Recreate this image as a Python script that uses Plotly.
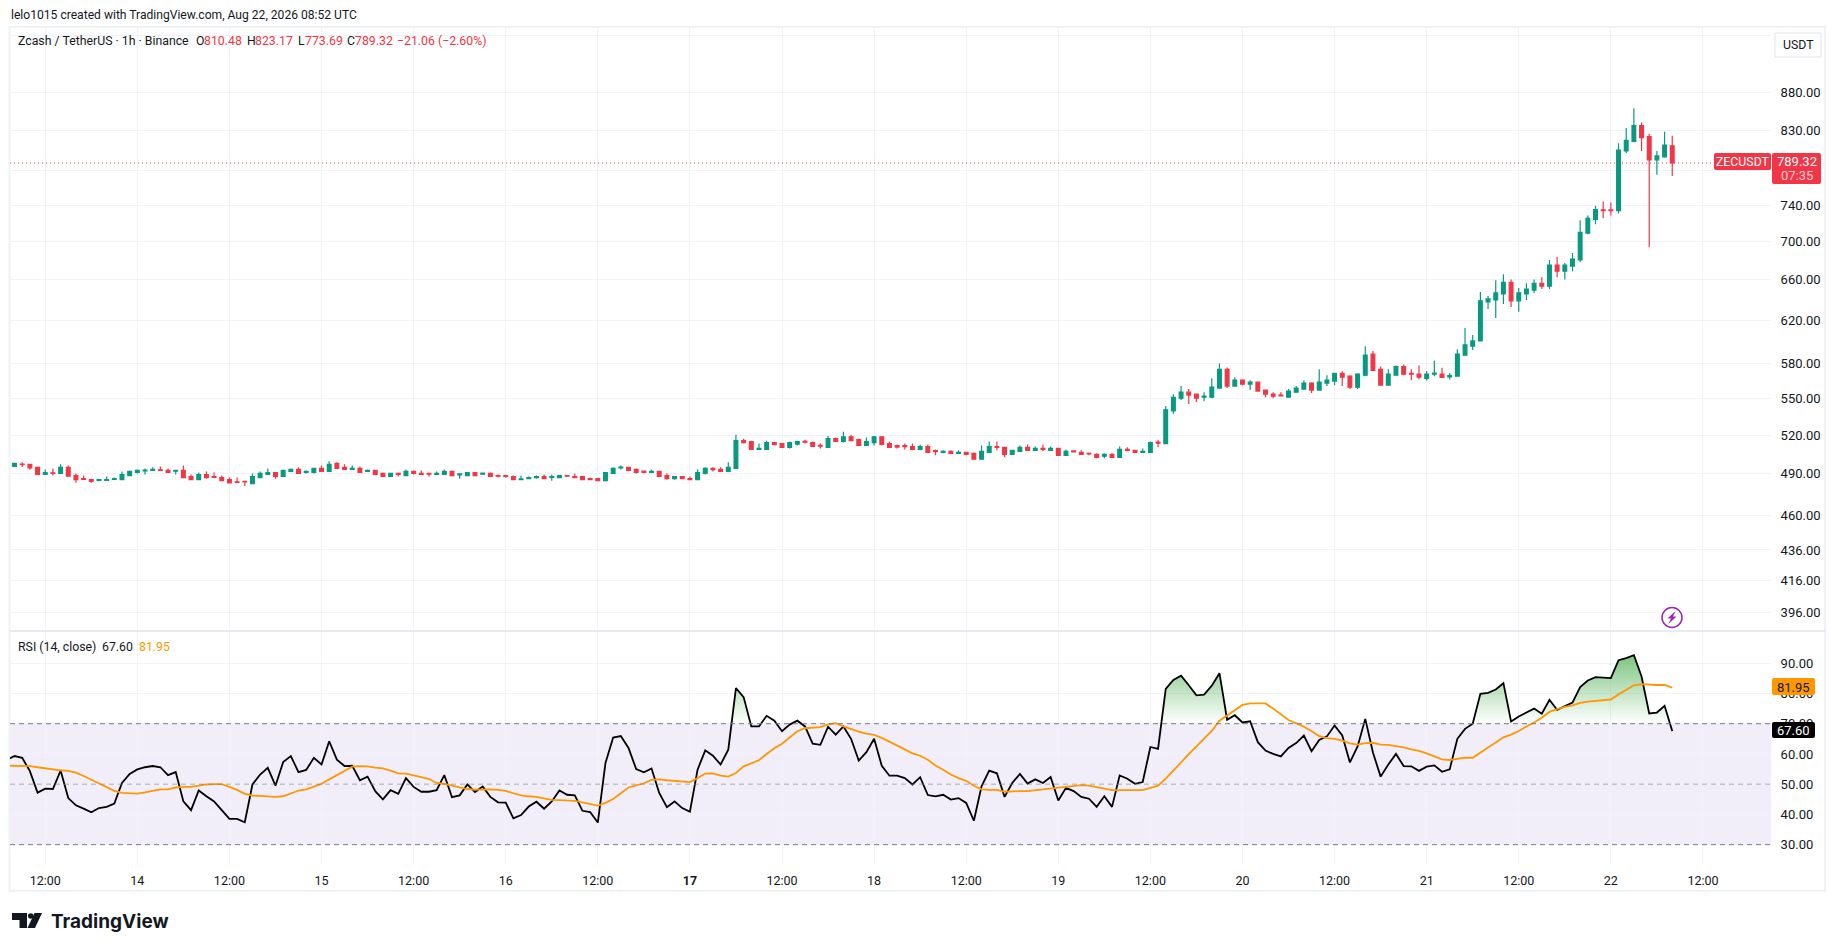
"""
ZEC/USDT 1h candles with RSI(14) pane, TradingView style.
"""

import pandas as pd
import plotly.graph_objects as go

W, H = 1835, 951

# first entry is the 07:00 bar that sits just off the left edge
opens = [
    495.8,
    495.6, 497.4, 497.2, 494.9, 489.5, 490.8, 490.3, 494.9, 488.7, 486.4,
    485.6, 485.1, 485.1, 485.9, 485.6, 488.7, 491.0, 492.3, 492.6, 493.1,
    492.6, 492.0, 492.6, 488.0, 485.6, 489.5, 488.0, 487.2, 485.6, 484.1,
    484.4, 482.6, 487.2, 489.5, 491.0, 488.0, 491.8, 493.3, 491.0, 491.0,
    494.1, 491.8, 497.9, 494.9, 493.3, 494.1, 491.8, 492.6, 490.3, 488.0,
    490.3, 488.7, 491.8, 490.3, 490.3, 489.5, 489.5, 491.8, 489.2, 488.7,
    491.0, 489.7, 490.3, 488.7, 488.7, 488.0, 485.6, 486.4, 487.2, 488.0,
    487.4, 487.2, 488.7, 488.0, 488.0, 486.4, 486.4, 484.9, 490.3, 494.4,
    494.9, 493.3, 492.0, 491.0, 491.8, 488.7, 486.4, 488.0, 486.4, 485.6,
    490.3, 494.1, 493.3, 491.8, 494.1, 515.6, 514.8, 508.7, 508.7, 514.1,
    513.3, 510.2, 512.9, 515.1, 514.1, 511.8, 510.3, 517.2, 514.9, 518.7,
    516.4, 511.8, 514.1, 518.7, 513.3, 511.6, 511.6, 511.0, 508.7, 511.0,
    507.7, 506.4, 507.2, 505.7, 506.4, 505.7, 501.1, 506.4, 511.0, 510.3,
    504.9, 507.2, 510.3, 508.0, 509.5, 508.0, 509.5, 504.1, 507.5, 506.4,
    505.7, 504.9, 503.4, 504.9, 502.6, 508.7, 508.0, 506.4, 506.4, 514.4,
    513.3, 539.7, 550.3, 555.4, 553.7, 551.1, 551.1, 558.9, 575.2, 560.6,
    565.7, 562.3, 564.0, 557.2, 553.7, 552.9, 551.1, 555.4, 558.0, 563.2,
    557.2, 563.2, 564.9, 571.7, 569.2, 559.7, 570.0, 588.7, 575.2, 561.4,
    570.0, 577.7, 571.7, 570.9, 567.3, 571.0, 571.0, 568.5, 569.2, 587.8,
    596.1, 600.8, 637.9, 639.8, 645.7, 657.4, 638.9, 645.7, 649.6, 656.4,
    653.5, 675.0, 668.7, 673.9, 680.2, 708.7, 724.0, 734.5, 734.5, 733.8,
    804.0, 816.0, 835.8, 822.0, 793.2, 796.8, 810.48,
]
highs = [
    496.5,
    497.9, 498.7, 497.2, 494.9, 493.3, 494.1, 497.2, 496.4, 490.3, 488.7,
    486.2, 486.4, 488.0, 487.2, 491.8, 492.6, 493.3, 494.1, 494.9, 495.6,
    494.1, 492.6, 496.4, 489.5, 491.0, 491.8, 491.0, 488.7, 487.2, 487.2,
    484.9, 490.3, 491.8, 494.1, 491.0, 493.1, 494.1, 494.9, 492.6, 494.1,
    496.4, 499.5, 498.7, 497.2, 496.4, 495.6, 493.3, 492.6, 491.0, 490.3,
    491.0, 493.3, 492.6, 492.6, 490.3, 491.8, 493.3, 491.8, 490.0, 491.0,
    491.0, 491.0, 491.0, 489.5, 488.7, 488.7, 488.7, 488.0, 488.7, 489.5,
    489.5, 488.7, 488.7, 490.3, 488.0, 487.2, 486.4, 491.0, 494.9, 496.4,
    494.9, 494.1, 492.6, 493.3, 491.8, 490.3, 488.0, 488.0, 488.0, 493.3,
    494.9, 494.9, 494.9, 498.7, 520.3, 517.1, 515.6, 513.3, 515.6, 514.1,
    513.3, 514.8, 515.6, 516.4, 514.9, 513.3, 519.5, 518.0, 522.7, 520.3,
    517.2, 518.0, 519.5, 518.7, 514.9, 512.6, 513.3, 513.3, 512.6, 512.6,
    508.7, 508.0, 508.0, 508.0, 506.4, 506.4, 511.8, 514.9, 514.9, 510.3,
    508.0, 511.8, 512.6, 511.0, 512.6, 511.0, 509.5, 508.7, 508.0, 508.0,
    506.4, 505.7, 505.7, 505.7, 511.0, 510.3, 508.0, 509.5, 514.9, 516.4,
    543.8, 553.7, 560.6, 558.0, 553.7, 555.4, 567.4, 580.3, 576.9, 568.3,
    566.6, 565.7, 564.0, 557.2, 555.4, 555.4, 558.0, 560.6, 565.7, 564.0,
    575.2, 570.0, 571.7, 573.5, 570.0, 571.7, 596.0, 591.5, 577.7, 575.2,
    578.6, 579.5, 575.2, 578.6, 573.8, 583.1, 576.6, 571.9, 593.3, 612.9,
    606.4, 647.6, 643.7, 659.4, 665.6, 660.3, 651.6, 656.4, 660.3, 662.4,
    680.2, 683.3, 677.0, 687.5, 722.9, 728.4, 739.3, 744.0, 742.8, 813.6,
    832.8, 858.5, 839.8, 825.6, 804.0, 828.0, 823.17,
]
lows = [
    495.0,
    495.6, 495.1, 493.1, 489.5, 489.5, 488.7, 490.3, 488.2, 483.3, 485.6,
    483.3, 484.4, 484.9, 485.6, 485.6, 488.2, 490.3, 489.5, 492.6, 492.6,
    491.0, 489.5, 487.2, 485.6, 485.6, 486.4, 487.2, 484.9, 483.3, 483.3,
    481.0, 482.6, 487.2, 489.5, 486.4, 487.4, 491.8, 490.3, 490.3, 490.3,
    491.8, 491.8, 494.1, 493.3, 493.3, 491.0, 491.8, 489.5, 488.0, 488.0,
    488.0, 488.7, 489.5, 489.5, 488.0, 489.5, 489.5, 488.7, 486.4, 488.7,
    488.7, 489.5, 488.0, 487.2, 487.2, 485.6, 485.6, 486.4, 486.4, 486.4,
    484.9, 487.2, 488.2, 487.2, 485.6, 485.6, 484.9, 484.9, 490.3, 493.3,
    492.6, 490.3, 491.0, 491.0, 488.0, 485.6, 485.6, 486.4, 485.6, 485.6,
    489.5, 491.8, 491.8, 491.8, 494.1, 513.3, 508.7, 508.7, 508.7, 512.5,
    510.2, 509.5, 511.8, 513.3, 511.0, 509.5, 510.3, 514.9, 514.1, 515.6,
    511.8, 511.8, 511.8, 511.8, 510.3, 509.5, 508.7, 508.0, 508.0, 506.4,
    504.1, 505.7, 504.9, 505.7, 504.1, 501.1, 501.1, 505.7, 508.0, 502.6,
    504.9, 507.2, 508.0, 508.0, 507.2, 508.0, 504.1, 504.1, 506.4, 504.9,
    504.1, 501.8, 501.8, 502.6, 502.6, 507.2, 505.7, 506.4, 506.4, 510.3,
    513.3, 537.3, 548.7, 545.4, 547.0, 547.8, 550.3, 558.9, 558.9, 560.6,
    561.4, 557.2, 556.3, 551.1, 550.3, 552.0, 551.1, 555.4, 558.0, 554.6,
    557.2, 560.6, 561.4, 560.6, 558.0, 558.0, 569.2, 574.3, 561.4, 561.4,
    570.0, 570.0, 565.7, 566.6, 565.4, 569.2, 568.2, 566.4, 569.2, 587.8,
    592.4, 600.8, 631.0, 622.3, 635.9, 633.0, 628.2, 639.8, 646.7, 650.6,
    650.6, 662.4, 660.3, 668.7, 678.1, 707.6, 718.6, 725.1, 728.4, 730.5,
    801.6, 814.8, 804.0, 693.7, 775.2, 795.6, 773.69,
]
closes = [
    495.6,
    497.9, 496.9, 494.4, 489.5, 491.0, 490.3, 494.9, 488.2, 485.6, 485.9,
    484.4, 485.6, 485.6, 486.4, 489.5, 491.8, 492.6, 492.8, 493.3, 492.6,
    491.0, 492.6, 487.2, 485.6, 489.5, 487.2, 487.4, 484.9, 483.3, 483.6,
    483.9, 488.0, 490.3, 491.0, 488.0, 492.6, 493.3, 490.3, 491.8, 494.1,
    491.8, 497.2, 494.1, 493.3, 494.1, 491.0, 492.6, 489.5, 488.0, 490.3,
    489.5, 491.8, 490.3, 489.5, 489.7, 490.3, 491.8, 488.7, 490.0, 491.0,
    488.7, 490.5, 488.0, 488.2, 488.0, 485.6, 486.2, 487.2, 488.0, 486.4,
    488.0, 488.7, 488.2, 487.2, 485.6, 485.6, 484.9, 491.0, 494.1, 495.1,
    492.6, 491.0, 491.0, 491.8, 488.0, 486.4, 488.0, 486.4, 485.6, 491.0,
    494.1, 493.1, 491.8, 494.9, 515.6, 514.1, 508.7, 509.5, 514.1, 512.5,
    510.2, 514.1, 514.8, 514.4, 511.0, 511.3, 517.2, 514.9, 518.7, 515.6,
    511.8, 514.9, 518.7, 512.6, 510.3, 510.5, 510.8, 508.7, 511.0, 506.4,
    506.9, 507.2, 505.7, 506.4, 504.9, 501.1, 507.2, 511.0, 510.3, 504.9,
    508.0, 510.3, 508.0, 509.5, 508.7, 509.5, 504.1, 507.2, 506.7, 504.9,
    505.2, 502.6, 504.9, 502.6, 508.7, 508.0, 506.4, 507.2, 514.1, 513.6,
    540.5, 551.1, 555.4, 552.9, 550.3, 552.0, 559.7, 575.2, 560.6, 565.7,
    562.3, 564.0, 556.3, 553.7, 552.0, 552.3, 556.3, 558.9, 563.2, 557.2,
    564.0, 565.7, 571.7, 568.3, 559.7, 570.9, 587.8, 574.3, 561.4, 570.9,
    577.7, 570.9, 570.9, 568.3, 571.0, 571.9, 568.2, 569.8, 588.7, 597.1,
    600.8, 638.9, 640.8, 646.7, 657.4, 638.9, 646.7, 650.6, 656.4, 653.5,
    675.0, 668.7, 675.0, 681.2, 709.8, 725.1, 734.9, 733.8, 733.8, 805.2,
    817.2, 835.8, 820.8, 793.2, 798.0, 811.2, 789.32,
]
rsi_values = [
    58.1,
    59.3, 58.7, 54.3, 47.2, 48.5, 48.4, 54.5, 45.4, 43.0, 41.9,
    40.7, 42.1, 42.5, 43.6, 50.4, 53.4, 54.9, 55.6, 56.0, 55.6,
    53.0, 54.0, 44.3, 41.4, 47.9, 46.0, 44.3, 41.4, 38.5, 38.5,
    37.4, 49.9, 53.2, 55.4, 49.5, 57.3, 59.3, 54.0, 54.7, 58.7,
    56.5, 64.2, 58.1, 56.0, 56.1, 51.3, 52.5, 47.7, 45.0, 48.0,
    46.8, 52.0, 49.1, 47.5, 47.5, 48.0, 53.0, 45.7, 46.3, 49.9,
    47.4, 49.2, 45.8, 44.0, 43.9, 38.7, 39.8, 42.6, 44.2, 41.9,
    44.3, 47.9, 46.5, 46.3, 41.2, 40.8, 37.3, 57.0, 65.4, 65.9,
    62.0, 55.0, 53.9, 55.2, 47.1, 42.4, 44.3, 42.1, 40.9, 54.8,
    61.2, 59.4, 56.5, 61.4, 81.8, 78.8, 69.1, 69.1, 72.6, 71.0,
    67.5, 69.7, 71.0, 69.1, 63.4, 63.0, 69.0, 66.4, 69.1, 65.0,
    57.8, 60.6, 65.0, 56.1, 52.8, 52.8, 52.0, 49.9, 52.3, 46.4,
    46.0, 46.5, 44.9, 45.4, 43.8, 37.9, 49.3, 54.5, 53.6, 45.8,
    50.4, 53.4, 50.2, 51.6, 50.4, 52.4, 44.6, 48.8, 47.7, 45.8,
    45.2, 42.5, 46.0, 42.5, 52.9, 51.8, 50.1, 50.7, 62.3, 61.7,
    81.5, 84.5, 85.9, 82.7, 79.4, 79.6, 82.6, 86.7, 71.3, 72.8,
    70.4, 70.8, 63.9, 61.1, 60.0, 59.2, 62.0, 63.6, 66.1, 60.9,
    64.6, 65.8, 69.4, 66.1, 57.2, 62.5, 71.6, 60.5, 52.5, 56.5,
    60.0, 56.0, 55.9, 54.4, 55.8, 56.2, 54.1, 54.9, 65.0, 68.3,
    70.0, 79.9, 80.2, 81.3, 83.4, 70.7, 72.4, 73.7, 75.0, 73.3,
    77.9, 74.6, 75.9, 77.0, 82.1, 84.3, 85.4, 85.2, 85.1, 91.0,
    91.7, 92.7, 85.6, 73.4, 73.7, 75.9, 67.60,
]
rsi_ma = [
    56.1,
    56.1, 56.2, 56.0, 55.6, 55.2, 54.9, 54.6, 54.4, 53.8, 52.7,
    51.5, 50.2, 48.9, 47.8, 47.1, 46.9, 46.9, 47.3, 47.9, 48.3,
    48.3, 48.9, 49.1, 49.1, 49.5, 49.9, 50.0, 50.0, 49.1, 48.1,
    46.8, 46.2, 46.1, 46.0, 45.8, 46.0, 47.0, 47.9, 48.3, 49.1,
    50.1, 51.6, 53.0, 54.5, 55.8, 56.0, 55.9, 55.5, 55.2, 54.5,
    53.6, 53.5, 53.0, 52.3, 51.7, 50.4, 50.1, 49.5, 48.8, 48.4,
    48.2, 48.3, 48.3, 48.1, 47.8, 47.0, 46.3, 46.0, 45.8, 45.3,
    44.8, 44.7, 44.7, 44.5, 44.0, 43.5, 42.9, 43.8, 45.1, 47.0,
    48.9, 49.6, 50.3, 51.4, 51.6, 51.3, 51.1, 50.7, 50.7, 52.0,
    53.5, 53.6, 52.8, 52.5, 53.7, 55.9, 56.9, 57.9, 60.0, 61.9,
    63.4, 65.4, 67.5, 68.5, 68.7, 68.9, 69.8, 70.2, 69.1, 68.2,
    67.4, 66.7, 66.3, 65.3, 64.1, 62.8, 61.5, 60.2, 59.4, 58.1,
    56.2, 54.8, 53.2, 52.0, 51.1, 49.5, 48.3, 48.1, 48.1, 47.5,
    47.7, 47.7, 47.7, 48.0, 48.3, 48.6, 48.9, 49.1, 49.4, 49.7,
    49.5, 49.0, 48.3, 48.0, 48.0, 48.0, 48.0, 48.0, 48.8, 49.5,
    51.8, 54.6, 57.2, 59.9, 62.5, 65.0, 67.6, 71.0, 72.8, 74.6,
    76.2, 76.7, 76.7, 76.7, 75.0, 73.1, 71.2, 70.1, 69.0, 67.5,
    65.9, 65.2, 65.0, 64.4, 63.5, 63.1, 63.6, 63.7, 63.1, 63.0,
    62.7, 62.2, 61.5, 61.0, 60.2, 59.2, 58.2, 58.0, 58.5, 58.8,
    58.7, 60.3, 62.1, 63.8, 65.5, 66.4, 67.6, 69.1, 70.4, 72.0,
    73.9, 74.8, 75.6, 76.1, 76.9, 77.3, 77.6, 77.8, 78.0, 79.7,
    81.3, 82.7, 83.1, 82.9, 82.8, 82.8, 81.95,
]

tick_times = [
    "2026-08-13 12:00", "2026-08-14 00:00", "2026-08-14 12:00", "2026-08-15 00:00",
    "2026-08-15 12:00", "2026-08-16 00:00", "2026-08-16 12:00", "2026-08-17 00:00",
    "2026-08-17 12:00", "2026-08-18 00:00", "2026-08-18 12:00", "2026-08-19 00:00",
    "2026-08-19 12:00", "2026-08-20 00:00", "2026-08-20 12:00", "2026-08-21 00:00",
    "2026-08-21 12:00", "2026-08-22 00:00", "2026-08-22 12:00",
]
tick_labels = [
    "12:00", "14", "12:00", "15", "12:00", "16", "12:00", "<b>17</b>", "12:00", "18",
    "12:00", "19", "12:00", "20", "12:00", "21", "12:00", "22", "12:00",
]
# 780 and 960 only leave a gridline, their labels sit under the badge and the button
price_ticks = [396, 416, 436, 460, 490, 520, 550, 580, 620, 660, 700, 740, 780, 830, 880, 960]
price_labels = [
    "396.00", "416.00", "436.00", "460.00", "490.00", "520.00", "550.00", "580.00",
    "620.00", "660.00", "700.00", "740.00", "", "830.00", "880.00", "",
]
rsi_ticks = [30, 40, 50, 60, 70, 80, 90]
rsi_labels = ["30.00", "40.00", "50.00", "60.00", "70.00", "80.00", "90.00"]

GREEN = "#089981"
RED = "#F23645"
ORANGE = "#FF9800"
GRID = "#f0f3fa"
TEXT = "#131722"
FONT = "Roboto"


def fx(px):
    return px / W


def fy(px):
    return 1 - px / H


def label(px_x, px_y, text, color=TEXT, size=12.3, anchor="left", family=FONT):
    # annotations pad their text by about 2px, take that off for left aligned ones
    x = px_x - 2 if anchor == "left" else px_x
    return dict(
        x=fx(x), y=fy(px_y), xref="paper", yref="paper", text=text, showarrow=False,
        xanchor=anchor, yanchor="middle", font=dict(family=family, size=size, color=color),
    )


def box(x0, y0, x1, y1, color, r=2):
    path = (
        f"M{fx(x0 + r)},{fy(y0)} L{fx(x1 - r)},{fy(y0)} Q{fx(x1)},{fy(y0)} {fx(x1)},{fy(y0 + r)} "
        f"L{fx(x1)},{fy(y1 - r)} Q{fx(x1)},{fy(y1)} {fx(x1 - r)},{fy(y1)} "
        f"L{fx(x0 + r)},{fy(y1)} Q{fx(x0)},{fy(y1)} {fx(x0)},{fy(y1 - r)} "
        f"L{fx(x0)},{fy(y0 + r)} Q{fx(x0)},{fy(y0)} {fx(x0 + r)},{fy(y0)} Z"
    )
    return dict(type="path", path=path, xref="paper", yref="paper", fillcolor=color, line=dict(width=0))


def poly(points, color):
    path = "M" + " L".join(f"{fx(a)},{fy(b)}" for a, b in points) + " Z"
    return dict(type="path", path=path, xref="paper", yref="paper", fillcolor=color, line=dict(width=0))


hours = pd.date_range("2026-08-13 07:00", periods=len(closes), freq="h")
x_range = ["2026-08-13 07:24:30", "2026-08-22 20:52:00"]

# overbought fill: clamp to 70 and add the points where the line crosses it
fill_x, fill_y = [hours[0]], [max(rsi_values[0], 70)]
for t0, t1, a, b in zip(hours, hours[1:], rsi_values, rsi_values[1:]):
    if (a - 70) * (b - 70) < 0:
        fill_x.append(t0 + (t1 - t0) * ((70 - a) / (b - a)))
        fill_y.append(70)
    fill_x.append(t1)
    fill_y.append(max(b, 70))

fig = go.Figure()

fig.add_trace(
    go.Candlestick(
        x=hours, open=opens, high=highs, low=lows, close=closes,
        increasing=dict(line=dict(color=GREEN, width=1.2), fillcolor=GREEN),
        decreasing=dict(line=dict(color=RED, width=1.2), fillcolor=RED),
        whiskerwidth=0, showlegend=False, hoverinfo="skip",
    )
)
# last price line
fig.add_trace(
    go.Scatter(
        x=x_range, y=[closes[-1], closes[-1]], mode="lines",
        line=dict(color=RED, width=1, dash="1px 3px"), showlegend=False, hoverinfo="skip",
    )
)

fig.add_trace(
    go.Scatter(
        x=fill_x, y=[70] * len(fill_x), mode="lines", line=dict(width=0),
        xaxis="x2", yaxis="y2", showlegend=False, hoverinfo="skip",
    )
)
fig.add_trace(
    go.Scatter(
        x=fill_x, y=fill_y, mode="lines", line=dict(width=0), fill="tonexty",
        fillgradient=dict(
            type="vertical", start=70, stop=95,
            colorscale=[[0, "rgba(76,175,80,0)"], [1, "rgba(76,175,80,0.8)"]],
        ),
        xaxis="x2", yaxis="y2", showlegend=False, hoverinfo="skip",
    )
)
fig.add_trace(
    go.Scatter(
        x=hours, y=rsi_values, mode="lines", line=dict(color="#000000", width=1.8),
        xaxis="x2", yaxis="y2", showlegend=False, hoverinfo="skip",
    )
)
fig.add_trace(
    go.Scatter(
        x=hours, y=rsi_ma, mode="lines", line=dict(color=ORANGE, width=1.8),
        xaxis="x2", yaxis="y2", showlegend=False, hoverinfo="skip",
    )
)

x_common = dict(
    range=x_range, type="date", tickmode="array", tickvals=tick_times, showgrid=True,
    gridcolor=GRID, gridwidth=1, zeroline=False, showline=False, domain=[fx(10), fx(1771)],
)
y_common = dict(
    side="right", type="linear", showgrid=True, gridcolor=GRID, gridwidth=1, zeroline=False,
    showline=False, tickmode="array", ticks="outside", ticklen=6, tickcolor="rgba(0,0,0,0)",
    tickfont=dict(family=FONT, size=13, color=TEXT),
)

shapes = [
    # RSI band and levels
    dict(type="rect", xref="x2 domain", yref="y2", x0=0, x1=1, y0=30, y1=70,
         fillcolor="rgba(126,87,194,0.1)", line=dict(width=0), layer="below"),
    dict(type="line", xref="x2 domain", yref="y2", x0=0, x1=1, y0=70, y1=70,
         line=dict(color="#787B86", width=1, dash="5px 4px")),
    dict(type="line", xref="x2 domain", yref="y2", x0=0, x1=1, y0=50, y1=50,
         line=dict(color="rgba(120,123,134,0.6)", width=1, dash="5px 4px")),
    dict(type="line", xref="x2 domain", yref="y2", x0=0, x1=1, y0=30, y1=30,
         line=dict(color="#787B86", width=1, dash="5px 4px")),
    # frame and pane separator
    dict(type="rect", xref="paper", yref="paper", x0=fx(9.5), x1=fx(1825), y0=fy(27), y1=fy(891),
         line=dict(color="#eef1f6", width=2), layer="below"),
    dict(type="line", xref="paper", yref="paper", x0=fx(10), x1=fx(1825), y0=fy(631), y1=fy(631),
         line=dict(color="#e0e3eb", width=1.5)),
    # price and RSI badges
    box(1714, 153, 1771, 170, RED),
    box(1772, 153, 1821, 184, RED),
    box(1772, 678, 1815, 695, ORANGE),
    box(1772, 722, 1815, 738, "#000000"),
    # USDT button
    dict(type="rect", xref="paper", yref="paper", x0=fx(1775), x1=fx(1821), y0=fy(33), y1=fy(57),
         line=dict(color="#e0e3eb", width=1), fillcolor="white"),
    # lightning marker
    dict(type="circle", xref="paper", yref="paper", x0=fx(1662), x1=fx(1682), y0=fy(607.5), y1=fy(627.5),
         line=dict(color="#9C27B0", width=1.5), fillcolor="white"),
    poly([(1675.5, 611), (1667.5, 618.5), (1671, 618.5), (1668.5, 624), (1676.5, 616.5), (1673, 616.5)], "#9C27B0"),
    # TradingView mark
    poly([(12, 913), (27, 913), (27, 928), (19.5, 928), (19.5, 920), (12, 920)], TEXT),
    dict(type="circle", xref="paper", yref="paper", x0=fx(28), x1=fx(33.5), y0=fy(913.2), y1=fy(918.7),
         fillcolor=TEXT, line=dict(width=0)),
    poly([(34.5, 913), (42, 913), (35, 928), (27.5, 928)], TEXT),
]

annotations = [
    label(10.5, 15, "lelo1015 created with TradingView.com, Aug 22, 2026 08:52 UTC", size=12.1),
    label(18, 41.5, "Zcash / TetherUS · 1h · Binance"),
    label(196, 41.5, "O"),
    label(204, 41.5, "810.48", RED),
    label(247, 41.5, "H"),
    label(255, 41.5, "823.17", RED),
    label(298, 41.5, "L"),
    label(305, 41.5, "773.69", RED),
    label(347, 41.5, "C"),
    label(355, 41.5, "789.32", RED),
    label(397, 41.5, "−21.06 (−2.60%)", RED),
    label(18, 646.5, "RSI (14, close)"),
    label(102, 646.5, "67.60"),
    label(139, 646.5, "81.95", ORANGE),
    label(1798, 45, "USDT", anchor="center"),
    label(1742.5, 161.5, "ZECUSDT", "white", anchor="center"),
    label(1796.5, 161.5, "789.32", "white", size=13, anchor="center"),
    label(1796.5, 175.5, "07:35", "rgba(255,255,255,0.75)", size=13, anchor="center"),
    label(1793.5, 687, "81.95", "#131722", size=13, anchor="center"),
    label(1793.5, 730, "67.60", "white", size=13, anchor="center"),
    label(51, 921, "<b>TradingView</b>", size=19, family="Inter"),
]

fig.update_layout(
    width=W,
    height=H,
    margin=dict(l=0, r=0, t=0, b=0),
    paper_bgcolor="white",
    plot_bgcolor="white",
    showlegend=False,
    boxgap=0.3,
    boxgroupgap=0.3,
    xaxis=dict(x_common, anchor="y", showticklabels=False, rangeslider=dict(visible=False)),
    xaxis2=dict(
        x_common, anchor="y2", ticktext=tick_labels, ticks="outside", ticklen=5,
        tickcolor="rgba(0,0,0,0)", tickfont=dict(family=FONT, size=12.5, color=TEXT),
    ),
    yaxis=dict(
        y_common, type="log", anchor="x", domain=[fy(631), fy(28)],
        range=[2.5855, 2.9872], tickvals=price_ticks, ticktext=price_labels,
    ),
    yaxis2=dict(
        y_common, anchor="x2", domain=[fy(864), fy(631)],
        range=[23.6, 100.66], tickvals=rsi_ticks, ticktext=rsi_labels,
    ),
    shapes=shapes,
    annotations=annotations,
)

fig.write_html(
    "out.html",
    config={"displayModeBar": False},
    post_script="document.body.style.margin='0';",
)
